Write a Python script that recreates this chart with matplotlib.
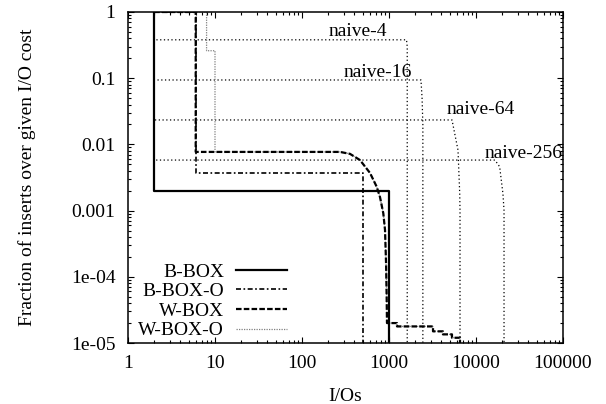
import matplotlib
matplotlib.use("Agg")
import matplotlib.pyplot as plt

# series (x = I/Os, y = fraction)
bbox_x = [2, 2, 1000, 1000]
bbox_y = [1, 0.002, 0.002, 1e-5]

bboxo_x = [2, 6, 6, 500, 500]
bboxo_y = [1, 1, 0.0037, 0.0037, 1e-5]

tail_x = [273, 356, 464, 605, 721, 788, 860, 900, 925, 940, 948,
          1236, 1236, 3205, 3205, 4170, 4170, 5295, 5295, 6550, 6550]
tail_y = [0.0077, 0.0072, 0.0058, 0.0037, 0.0023, 0.0016, 9.1e-4, 5.1e-4, 1.6e-4, 5e-5, 2e-5,
          2e-5, 1.78e-5, 1.78e-5, 1.5e-5, 1.5e-5, 1.35e-5, 1.35e-5, 1.2e-5, 1.2e-5, 1e-5]

wbox_x = [2, 6, 6] + tail_x
wbox_y = [1, 1, 0.0077] + tail_y

wboxo_x = [2, 8, 8, 10, 10] + tail_x
wboxo_y = [1, 1, 0.26, 0.26, 0.0077] + tail_y

naive4_x = [2, 2, 1590, 1620, 1620]
naive4_y = [1, 0.38, 0.38, 0.3, 1e-5]
naive16_x = [2, 2, 2330, 2400, 2450, 2450]
naive16_y = [1, 0.094, 0.094, 0.05, 0.02, 1e-5]
naive64_x = [2, 2, 5300, 6210, 6500, 6550, 6550]
naive64_y = [1, 0.0234, 0.0234, 0.0082, 0.0018, 0.001, 1e-5]
naive256_x = [2, 2, 16500, 18700, 20400, 21000, 21000]
naive256_y = [1, 0.0058, 0.0058, 0.0046, 0.0018, 0.001, 1e-5]

naive_labels = ["naive-4", "naive-16", "naive-64", "naive-256"]
label_x = [950, 1850, 28000, 100000]
label_y = [0.5, 0.124, 0.034, 0.0074]

xticks = [1, 10, 100, 1000, 10000, 100000]
xtick_labels = ["1", "10", "100", "1000", "10000", "100000"]
yticks = [1e-5, 1e-4, 1e-3, 1e-2, 0.1, 1]
ytick_labels = ["1e-05", "1e-04", "0.001", "0.01", "0.1", "1"]

plt.rcParams['font.family'] = ['Liberation Serif', 'DejaVu Serif']
plt.rcParams['font.size'] = 14

fig = plt.figure(figsize=(6.06, 4.04), dpi=100)
ax = fig.add_axes([128 / 606, 1 - 343 / 404, 435 / 606, 331 / 404])

dot = (0, (1, 2))
for nx, ny in [(naive4_x, naive4_y), (naive16_x, naive16_y),
               (naive64_x, naive64_y), (naive256_x, naive256_y)]:
    ax.plot(nx, ny, color='black', lw=0.9, linestyle=dot)

ax.plot(wboxo_x, wboxo_y, color='#808080', lw=0.9, linestyle=(0, (1, 1)), label='W-BOX-O')
ax.plot(bboxo_x, bboxo_y, color='black', lw=1.2, linestyle=(0, (3, 1.5, 1, 1.5)), label='B-BOX-O')
ax.plot(wbox_x, wbox_y, color='black', lw=1.6, linestyle=(0, (2.5, 1)), label='W-BOX')
ax.plot(bbox_x, bbox_y, color='black', lw=1.6, label='B-BOX')

for t, tx, ty in zip(naive_labels, label_x, label_y):
    ax.text(tx, ty, t, ha='right', va='center')

ax.set_xscale('log')
ax.set_yscale('log')
ax.set_xlim(1, 100000)
ax.set_ylim(1e-5, 1)
ax.set_xticks(xticks, xtick_labels)
ax.set_yticks(yticks, ytick_labels)
ax.tick_params(which='both', direction='in', top=True, right=True)
ax.tick_params(which='major', length=4, width=0.8, pad=9)
ax.tick_params(which='minor', length=2, width=0.8)
for s in ax.spines.values():
    s.set_linewidth(1.1)

ax.set_xlabel('I/Os', labelpad=11)
ax.set_ylabel('Fraction of inserts over given I/O cost', labelpad=25)

h, l = ax.get_legend_handles_labels()
order = [3, 1, 2, 0]
ax.legend([h[i] for i in order], [l[i] for i in order], loc='lower right',
          bbox_to_anchor=(0.366, 0.011), frameon=False, markerfirst=False,
          borderpad=0, borderaxespad=0, handlelength=2.64, handletextpad=0.6,
          labelspacing=0.1)

fig.savefig('out.png', dpi=100)
